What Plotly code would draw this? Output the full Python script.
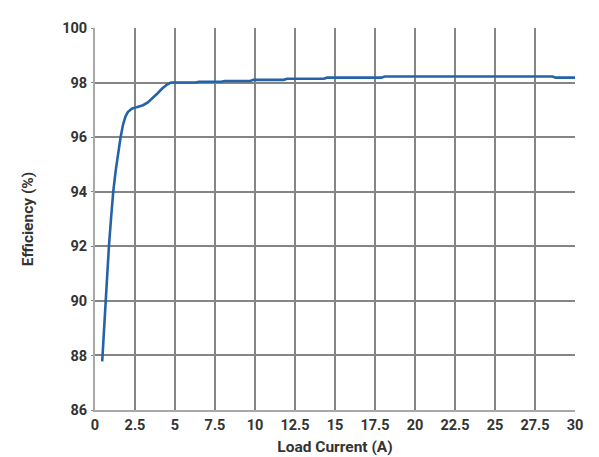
import plotly.graph_objects as go

load_current = [0.45, 0.5, 0.58, 0.67, 0.77, 0.87, 1.0, 1.14, 1.3, 1.45, 1.6, 1.75, 1.9,
                2.05, 2.3, 2.6, 3.0, 3.3, 3.6, 3.9, 4.2, 4.5, 4.75, 5.0, 6.3, 6.5,
                7.9, 8.1, 9.7, 9.9, 11.8, 12.0, 14.3, 14.5, 17.9, 18.1, 28.6, 28.8, 30.0]
efficiency = [87.78, 88.3, 89.2, 90.0, 91.0, 92.0, 93.0, 94.0, 94.8, 95.5, 96.0, 96.45, 96.75,
              96.92, 97.04, 97.1, 97.17, 97.27, 97.42, 97.6, 97.78, 97.93, 98.0, 98.0, 98.0, 98.03,
              98.03, 98.06, 98.06, 98.1, 98.1, 98.14, 98.14, 98.18, 98.18, 98.22, 98.22, 98.18, 98.18]

x_ticks = [0, 2.5, 5, 7.5, 10, 12.5, 15, 17.5, 20, 22.5, 25, 27.5, 30]
x_tick_labels = ["0", "2.5", "5", "7.5", "10", "12.5", "15", "17.5", "20", "22.5", "25", "27.5", "30"]
y_ticks = [86, 88, 90, 92, 94, 96, 98, 100]

fig = go.Figure()
fig.add_trace(go.Scatter(x=load_current, y=efficiency, mode="lines",
                         line=dict(color="#2563a8", width=2.6), showlegend=False))

grid_color = "#858585"
fam = "Roboto, Arial, sans-serif"
tick_font = dict(family=fam, size=14.5, color="#333333", weight="bold")
title_font = dict(family=fam, size=15.5, color="#333333", weight="bold")

fig.update_layout(
    width=591, height=449,
    margin=dict(l=87, r=24, t=20, b=47),
    paper_bgcolor="white", plot_bgcolor="white",
    xaxis=dict(range=[0, 30], tickvals=x_ticks, ticktext=x_tick_labels,
               showgrid=True, gridcolor=grid_color, gridwidth=1.5,
               showline=True, linecolor="#a8a8a8", linewidth=2,
               zeroline=False, ticks="", ticklabelstandoff=1, automargin=False,
               tickfont=tick_font,
               title=dict(text="Load Current (A)", standoff=8, font=title_font)),
    yaxis=dict(range=[86, 100], tickvals=y_ticks,
               showgrid=True, gridcolor=grid_color, gridwidth=1.5,
               showline=True, linecolor="#a8a8a8", linewidth=2,
               zeroline=False, ticks="outside", ticklen=2, tickcolor=grid_color,
               ticklabelstandoff=1, automargin=False,
               tickfont=tick_font,
               title=dict(text="Efficiency (%)", standoff=25, font=title_font)),
)

fig.write_html("out.html")
